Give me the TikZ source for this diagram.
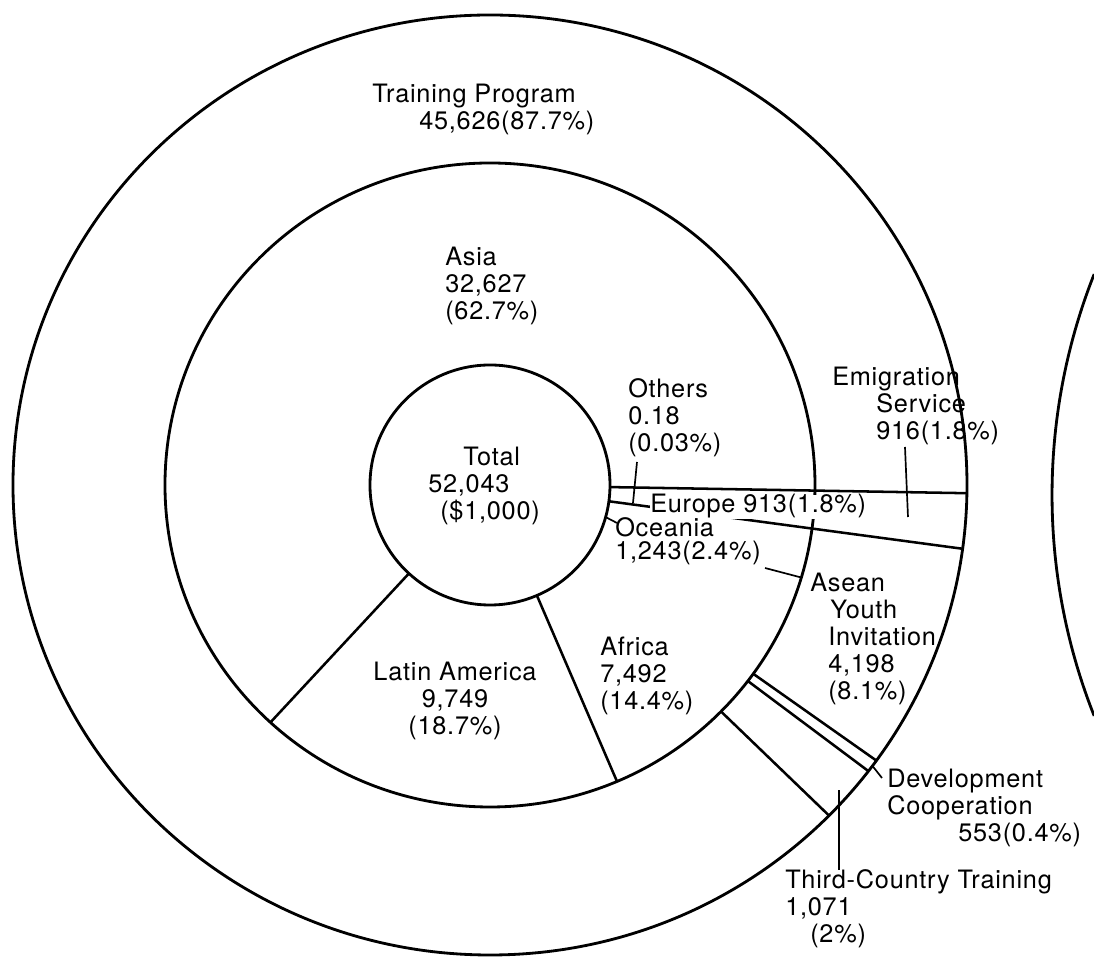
\documentclass[tikz,border=0pt]{standalone}
\usepackage{fontspec}
\setmainfont{TeX Gyre Heros}[LetterSpace=3]
\usetikzlibrary{positioning}
\usetikzlibrary{calc}

\begin{document}
\begin{tikzpicture}[x=0.025cm,y=0.025cm,
	ring/.style={line width=2pt},
	cut/.style={line width=1.8pt},
	lead/.style={line width=1.2pt},
	lbl/.style={inner sep=0pt, anchor=base west, align=left,
		font=\fontsize{18}{19.2}\selectfont}]

	\useasboundingbox (-490,-472) rectangle (604,485);

	%Rings
	\coordinate (C) at (0,0);
	\draw[ring] (C) ellipse [x radius=477, y radius=470];
	\draw[ring] (C) ellipse [x radius=325, y radius=322];
	\draw[ring] (C) circle (120);

	%neighbouring chart, cut by the page
	\draw[ring] (1162,-10) ++(158.4:600) arc[start angle=158.4, end angle=201.6, radius=600];

	%Cuts through both rings
	\draw[cut] (-1:120) -- (-1:477 and 470);
	\draw[cut] (-7.8:120) -- (-7.8:477 and 470);

	%Cuts of the regions
	\draw[cut] (227.5:120) -- (227.5:325 and 322);
	\draw[cut] (293:120) -- (293:325 and 322);

	%Cuts of the programs
	\draw[cut] (-35.9:325 and 322) -- (-35.9:477 and 470);
	\draw[cut] (-37.5:325 and 322) -- (-37.5:477 and 470);
	\draw[cut] (-44.7:325 and 322) -- (-44.7:477 and 470);

	%Labels (anchored on the base line of their last line)
	\node[lbl] (Train) at (-118,355) {Training Program\\\hspace*{1.175cm}45,626(87.7\%)};
	\node[lbl] (Asia) at (-45,165) {Asia\\32,627\\(62.7\%)};
	\node[lbl] (Total) at (-62,-35) {\hspace*{0.875cm}Total\\52,043\\\hspace*{0.3cm}(\$1,000)};
	\node[lbl] (Others) at (138,33) {Others\\0.18\\(0.03\%)};
	\node[lbl, fill=white] (Europe) at (160,-28) {Europe 913(1.8\%)};
	\node[lbl] (Oceania) at (125,-75) {Oceania\\[-0.1cm]1,243(2.4\%)};
	\node[lbl] (Emig) at (342,45) {Emigration\\\hspace*{1.1cm}Service\\\hspace*{1.1cm}916(1.8\%)};
	\node[lbl] (Asean) at (320,-215) {Asean\\\hspace*{0.5cm}Youth\\\hspace*{0.45cm}Invitation\\\hspace*{0.45cm}4,198\\\hspace*{0.45cm}(8.1\%)};
	\node[lbl] (Africa) at (110,-225) {Africa\\7,492\\(14.4\%)};
	\node[lbl, anchor=base, align=center] (LatAm) at (-35,-250) {Latin America\\9,749\\(18.7\%)};
	\node[lbl] (DevCoop) at (397,-357) {Development\\Cooperation\\\hspace*{1.775cm}553(0.4\%)};
	\node[lbl] (Third) at (295,-458) {Third-Country Training\\1,071\\\hspace*{0.625cm}(2\%)};

	%Leaders
	\coordinate (OthersFrom) at (147,23);
	\coordinate (OthersTo) at (143,-18);
	\coordinate (EmigFrom) at (415,38);
	\coordinate (EmigTo) at (418,-32);
	\coordinate (OceFrom) at (127,-38);
	\coordinate (OceTo) at (-15.5:120);
	\coordinate (OceEndFrom) at (275,-83);
	\coordinate (OceEndTo) at (-16.7:325 and 322);
	\coordinate (DevFrom) at (392,-293);
	\coordinate (DevTo) at (-36.7:477 and 470);
	\coordinate (ThirdFrom) at (349,-385);
	\coordinate (ThirdTo) at (349,-305);

	\draw[lead] (OthersFrom) -- (OthersTo);
	\draw[lead] (EmigFrom) -- (EmigTo);
	\draw[lead] (OceFrom) -- (OceTo);
	\draw[lead] (OceEndFrom) -- (OceEndTo);
	\draw[lead] (DevFrom) -- (DevTo);
	\draw[lead] (ThirdFrom) -- (ThirdTo);

\end{tikzpicture}
\end{document}
